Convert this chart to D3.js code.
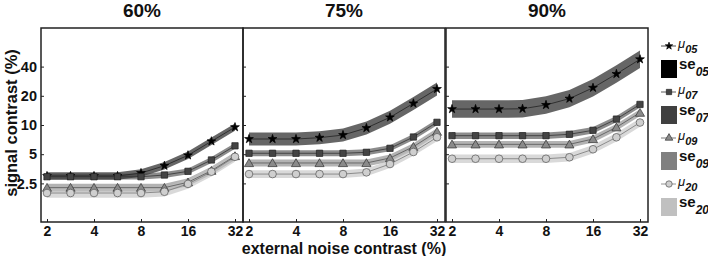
<!DOCTYPE html>
<html>
<head>
<meta charset="utf-8">
<script src="https://cdn.jsdelivr.net/npm/d3@7"></script>
<style>
  body { margin: 0; background: #fff; }
  text { font-family: "Liberation Sans", Arial, sans-serif; }
</style>
</head>
<body>
<div id="chart"></div>
<script>
// external noise levels (%) and panel titles
const noise = [2, 2.83, 4, 5.66, 8, 11.3, 16, 22.6, 32];
const panels = ["60%", "75%", "90%"];
const xTicks = [2, 4, 8, 16, 32];
const yTicks = [2.5, 5, 10, 20, 40];

// mean signal contrast per panel (rows = 60%, 75%, 90%)
const mu05 = [
  [2.98, 2.98, 2.98, 2.98, 3.2, 3.8, 4.87, 6.79, 9.5],
  [7.17, 7.17, 7.17, 7.4, 7.88, 9.31, 12.0, 16.7, 23.5],
  [14.6, 14.6, 14.6, 14.7, 16.1, 18.7, 24.2, 33.6, 47.6]
];
const mu07 = [
  [2.93, 2.93, 2.93, 2.93, 2.93, 3.05, 3.33, 4.36, 6.1],
  [5.11, 5.11, 5.11, 5.11, 5.11, 5.23, 5.75, 7.52, 10.66],
  [7.76, 7.76, 7.76, 7.76, 7.76, 8.02, 8.82, 11.5, 16.3]
];
const mu09 = [
  [2.26, 2.26, 2.26, 2.26, 2.26, 2.26, 2.57, 3.38, 4.79],
  [4.06, 4.06, 4.06, 4.06, 4.06, 4.06, 4.57, 5.97, 8.53],
  [6.32, 6.32, 6.32, 6.32, 6.32, 6.32, 7.17, 9.47, 13.4]
];
const mu20 = [
  [1.99, 1.99, 1.99, 1.99, 1.99, 2.05, 2.47, 3.3, 4.7],
  [3.12, 3.12, 3.12, 3.12, 3.12, 3.25, 3.96, 5.27, 7.47],
  [4.49, 4.49, 4.49, 4.49, 4.49, 4.65, 5.62, 7.47, 10.6]
];
// standard error half-width, in log10 units (per panel)
const se05 = [0.038, 0.067, 0.09];
const se07 = [0.03, 0.031, 0.033];
const se09 = [0.04, 0.036, 0.035];
const se20 = [0.05, 0.04, 0.043];

const seriesNames = ["05", "07", "09", "20"];
const allMu = [mu05, mu07, mu09, mu20];
const allSe = [se05, se07, se09, se20];

const width = 708, height = 256;
const plotTop = 28, plotBottom = 222;
const panelLeft = [41, 243, 446];
const panelW = 202;

const bandColor = ["#000", "#404040", "#808080", "#c0c0c0"];
const markFill = ["#000", "#444", "#8a8a8a", "#cfcfcf"];
const markStroke = ["#000", "#222", "#333", "#555"];
const lineColor = ["#222", "#333", "#555", "#777"];
const symbols = [d3.symbolStar, d3.symbolSquare, d3.symbolTriangle, d3.symbolCircle];
const symSize = [24, 40, 36, 46];

const svg = d3.select("#chart").append("svg")
  .attr("width", width)
  .attr("height", height);

const y = d3.scaleLog().domain([1, 100]).range([plotBottom, plotTop]);

panels.forEach((title, p) => {
  const left = panelLeft[p];
  const x = d3.scaleLog().domain([2, 32]).range([left + 6, left + 194]);
  const g = svg.append("g");

  // bands first, then lines and markers on top
  allMu.forEach((mu, s) => {
    const se = allSe[s][p];
    const pts = noise.map((n, i) => ({ n, v: mu[p][i] }));
    const area = d3.area()
      .x(d => x(d.n))
      .y0(d => y(d.v / Math.pow(10, se)))
      .y1(d => y(d.v * Math.pow(10, se)));
    g.append("path")
      .datum(pts)
      .attr("d", area)
      .attr("fill", bandColor[s])
      .attr("fill-opacity", 0.6);
  });

  allMu.forEach((mu, s) => {
    const pts = noise.map((n, i) => ({ n, v: mu[p][i] }));
    const line = d3.line().x(d => x(d.n)).y(d => y(d.v));
    g.append("path")
      .datum(pts)
      .attr("d", line)
      .attr("fill", "none")
      .attr("stroke", lineColor[s])
      .attr("stroke-width", 0.8);
    g.selectAll(null)
      .data(pts)
      .enter()
      .append("path")
      .attr("d", d3.symbol().type(symbols[s]).size(symSize[s]))
      .attr("transform", d => `translate(${x(d.n)},${y(d.v)})` + (s === 2 ? " translate(0,1)" : ""))
      .attr("fill", markFill[s])
      .attr("stroke", markStroke[s])
      .attr("stroke-width", 0.7);
  });

  // x axis
  const xa = g.append("g")
    .attr("transform", `translate(0,${plotBottom})`)
    .call(d3.axisBottom(x).tickValues(xTicks).tickFormat(d3.format("d")).tickSizeInner(-3).tickSizeOuter(0).tickPadding(4));
  xa.select(".domain").remove();
  xa.selectAll("line").attr("stroke", "#222");
  xa.selectAll("text").attr("font-size", 14).attr("font-weight", "bold").attr("fill", "#111");

  // y axis ticks (labels only on first panel)
  const ya = g.append("g")
    .attr("transform", `translate(${left},0)`)
    .call(d3.axisLeft(y).tickValues(yTicks).tickFormat(d => d).tickSizeInner(-3).tickSizeOuter(0).tickPadding(4));
  ya.select(".domain").remove();
  ya.selectAll("line").attr("stroke", "#222");
  ya.selectAll("text").attr("font-size", 14.5).attr("font-weight", "bold").attr("fill", "#111");
  if (p > 0) ya.selectAll("text").remove();

  // frame
  g.append("rect")
    .attr("x", left)
    .attr("y", plotTop)
    .attr("width", panelW)
    .attr("height", plotBottom - plotTop)
    .attr("fill", "none")
    .attr("stroke", "#222")
    .attr("stroke-width", 1.5);

  g.append("text")
    .attr("x", left + panelW / 2)
    .attr("y", 17)
    .attr("text-anchor", "middle")
    .attr("font-size", 19)
    .attr("font-weight", "bold")
    .attr("fill", "#111")
    .text(title);
});

// axis titles
svg.append("text")
  .attr("x", 344)
  .attr("y", 253.5)
  .attr("text-anchor", "middle")
  .attr("font-size", 16)
  .attr("font-weight", "bold")
  .attr("fill", "#111")
  .text("external noise contrast (%)");

svg.append("text")
  .attr("transform", "translate(17,123) rotate(-90)")
  .attr("text-anchor", "middle")
  .attr("font-size", 16.5)
  .attr("font-weight", "bold")
  .attr("fill", "#111")
  .text("signal contrast (%)");

// legend
const legend = svg.append("g").attr("transform", "translate(661,0)");
seriesNames.forEach((name, s) => {
  const y0 = 46 + s * 46;
  legend.append("line")
    .attr("x1", 0).attr("x2", 15)
    .attr("y1", y0).attr("y2", y0)
    .attr("stroke", lineColor[s])
    .attr("stroke-width", 0.8);
  legend.append("path")
    .attr("d", d3.symbol().type(symbols[s]).size(symSize[s] * 0.7))
    .attr("transform", `translate(8,${y0})`)
    .attr("fill", markFill[s])
    .attr("stroke", markStroke[s])
    .attr("stroke-width", 0.7);
  const mt = legend.append("text")
    .attr("x", 17)
    .attr("y", y0 + 2)
    .attr("font-size", 13)
    .attr("font-style", "italic")
    .attr("fill", "#111");
  mt.append("tspan").text("μ");
  mt.append("tspan").attr("dy", 5).attr("font-size", 11).attr("font-weight", "bold").text(name);

  legend.append("rect")
    .attr("x", 0)
    .attr("y", y0 + 14)
    .attr("width", 16)
    .attr("height", 18)
    .attr("fill", bandColor[s]);
  const st = legend.append("text")
    .attr("x", 18)
    .attr("y", y0 + 23)
    .attr("font-size", 15)
    .attr("font-weight", "bold")
    .attr("fill", "#111");
  st.append("tspan").text("se");
  st.append("tspan").attr("dy", 7).attr("font-size", 12).attr("font-style", "italic").text(name);
});
</script>
</body>
</html>
